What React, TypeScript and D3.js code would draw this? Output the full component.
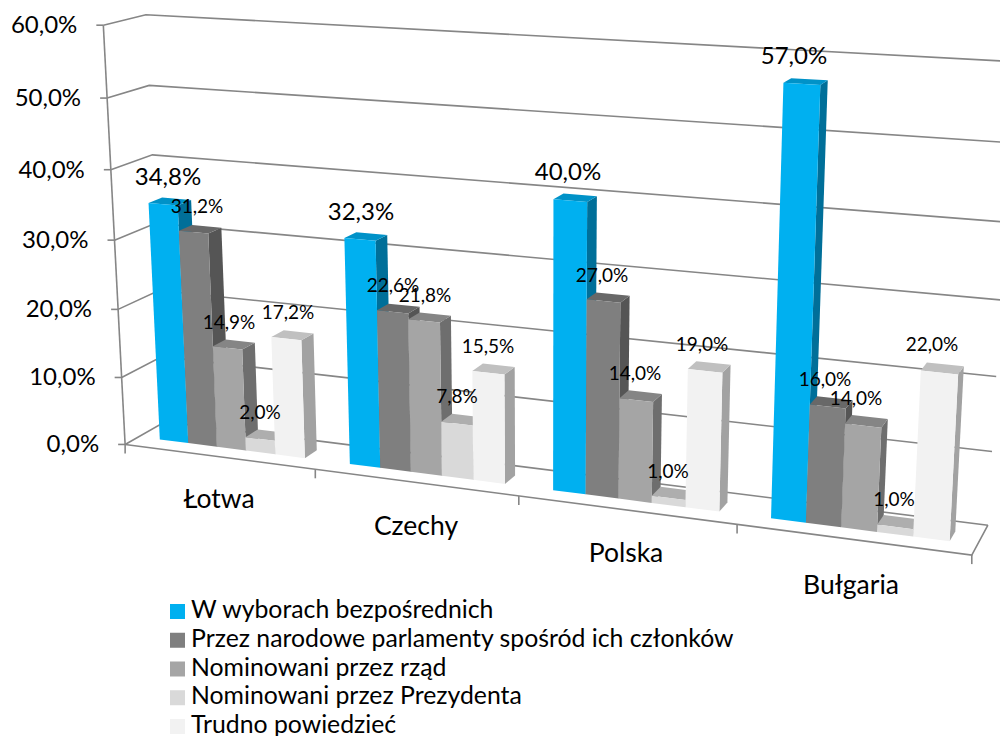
import React from "react";
import * as d3 from "d3";

const categories = ["Łotwa", "Czechy", "Polska", "Bułgaria"];
const seriesNames = [
  "W wyborach bezpośrednich",
  "Przez narodowe parlamenty spośród ich członków",
  "Nominowani przez rząd",
  "Nominowani przez Prezydenta",
  "Trudno powiedzieć",
];
const directElection = [34.8, 32.3, 40.0, 57.0];
const parliaments = [31.2, 22.6, 27.0, 16.0];
const government = [14.9, 21.8, 14.0, 14.0];
const president = [2.0, 7.8, 1.0, 1.0];
const hardToSay = [17.2, 15.5, 19.0, 22.0];
const valueTicks = [0, 10, 20, 30, 40, 50, 60];

const seriesValues = [directElection, parliaments, government, president, hardToSay];
const faceColors = [
  { front: "#00B0F0", side: "#006F99", top: "#0092C8" },
  { front: "#7F7F7F", side: "#555555", top: "#686868" },
  { front: "#A5A5A5", side: "#6E6E6E", top: "#858585" },
  { front: "#D9D9D9", side: "#919191", top: "#AEAEAE" },
  { front: "#F2F2F2", side: "#A2A2A2", top: "#C0C0C0" },
];
// Label anchors (centre x, baseline y), per series then category.
const labelAnchors = [
  [[168, 185], [361, 220], [568, 180], [794, 64]],
  [[197, 213], [393, 292], [602, 282], [825, 386]],
  [[229, 329], [425, 302], [635, 380], [856, 405]],
  [[260, 419], [457, 403], [668, 478], [894, 506]],
  [[288, 319], [488, 353], [702, 351], [932, 351]],
];
const categoryAnchors = [[219, 508], [416, 535], [626, 562], [851, 594]];

// Camera calibration: (u, depth, v) => screen
const calibration = [
  [0, 0, 0, 127, 443],
  [1, 0, 0, 972, 557],
  [0, 1, 0, 163, 424],
  [1, 1, 0, 988, 523],
  [0, 0, 1, 102, 25],
  [0, 1, 1, 148, 14],
  [1, 1, 1, 1014, 62],
  [0.0288, 1 / 3, 0, 160, 440],
  [0.2788, 1 / 3, 0, 350, 464],
  [0.5288, 1 / 3, 0, 553, 491],
  [0.7788, 1 / 3, 0, 771, 518],
  [0.2212, 1 / 3, 0, 305, 457],
  [0.4712, 1 / 3, 0, 505, 483],
  [0.7212, 1 / 3, 0, 719, 512],
  [0.9712, 1 / 3, 0, 950, 541],
  [0.0288, 1 / 3, 0.58, 148, 203],
  [0.2788, 1 / 3, 0.5383, 344, 238],
  [0.5288, 1 / 3, 0.6667, 553, 200],
  [0.7788, 1 / 3, 0.95, 783, 83],
];

function solveCamera(pts: number[][]) {
  const rows: number[][] = [];
  const rhs: number[] = [];
  for (const [u, d, v, x, y] of pts) {
    rows.push([u, d, v, 1, 0, 0, 0, 0, -x * u, -x * d, -x * v]);
    rhs.push(x);
    rows.push([0, 0, 0, 0, u, d, v, 1, -y * u, -y * d, -y * v]);
    rhs.push(y);
  }
  const n = 11;
  const A = d3.range(n).map((i) =>
    d3.range(n + 1).map((j) =>
      d3.sum(rows, (r, k) => r[i] * (j < n ? r[j] : rhs[k]))
    )
  );
  for (let c = 0; c < n; c++) {
    let p = c;
    for (let r = c + 1; r < n; r++) if (Math.abs(A[r][c]) > Math.abs(A[p][c])) p = r;
    [A[c], A[p]] = [A[p], A[c]];
    for (let r = 0; r < n; r++) {
      if (r === c) continue;
      const f = A[r][c] / A[c][c];
      for (let k = c; k <= n; k++) A[r][k] -= f * A[c][k];
    }
  }
  return A.map((r, i) => r[n] / r[i]);
}
const cam = solveCamera(calibration);
const project = (u: number, d: number, v: number): [number, number] => {
  const w = cam[8] * u + cam[9] * d + cam[10] * v + 1;
  return [
    (cam[0] * u + cam[1] * d + cam[2] * v + cam[3]) / w,
    (cam[4] * u + cam[5] * d + cam[6] * v + cam[7]) / w,
  ];
};

const valueScale = d3.scaleLinear().domain([0, 60]).range([0, 1]);
const catScale = d3.scaleBand<number>().domain(d3.range(categories.length)).range([0, 1]);
const barScale = d3
  .scaleBand<number>()
  .domain(d3.range(seriesNames.length))
  .range([0, catScale.bandwidth()])
  .paddingInner(0)
  .paddingOuter(0.75);
const depthFront = 1 / 3;
const depthBack = 2 / 3;

const lineGen = d3.line();
const polyPath = (pts: [number, number][]) => lineGen(pts) + "Z";
const FONT = "Lato, 'Open Sans', sans-serif";
const GRID = "#868686";

export default function App() {
  return (
    <svg width={1000} height={736} style={{ position: "absolute", left: 0, top: 0, background: "#fff" }} fontFamily={FONT}>
      {/* gridlines on side and back walls */}
      {valueTicks.map((t) => {
        const v = valueScale(t);
        return (
          <path
            key={t}
            d={lineGen([project(0, 0, v), project(0, 1, v), project(1, 1, v)])!}
            fill="none"
            stroke={GRID}
            strokeWidth={1.6}
          />
        );
      })}
      {/* floor */}
      <path
        d={lineGen([project(0, 0, 0), project(1, 0, 0), project(1, 1, 0)])!}
        fill="none"
        stroke={GRID}
        strokeWidth={1.6}
      />
      {/* value axis */}
      <path d={lineGen([project(0, 0, 0), project(0, 0, 1)])!} fill="none" stroke={GRID} strokeWidth={1.6} />
      {valueTicks.map((t) => {
        const [x, y] = project(0, 0, valueScale(t));
        return (
          <g key={t}>
            <line x1={x - 7} x2={x} y1={y} y2={y} stroke={GRID} strokeWidth={1.6} />
            <text x={x - 26} y={y + 8} textAnchor="end" fontSize={24} fill="#000">
              {t.toFixed(1).replace(".", ",") + "%"}
            </text>
          </g>
        );
      })}
      {d3.range(categories.length + 1).map((i) => {
        const [x, y] = project(i / categories.length, 0, 0);
        return <line key={i} x1={x} x2={x} y1={y} y2={y + 9} stroke={GRID} strokeWidth={1.6} />;
      })}
      {/* bars */}
      {categories.map((_, ci) =>
        seriesValues.map((vals, si) => {
          const u0 = catScale(ci)! + barScale(si)!;
          const u1 = u0 + barScale.bandwidth();
          const v = valueScale(vals[ci]);
          const c = faceColors[si];
          return (
            <g key={`${ci}-${si}`}>
              <path
                d={polyPath([project(u1, depthFront, 0), project(u1, depthBack, 0), project(u1, depthBack, v), project(u1, depthFront, v)])}
                fill={c.side}
              />
              <path
                d={polyPath([project(u0, depthFront, v), project(u1, depthFront, v), project(u1, depthBack, v), project(u0, depthBack, v)])}
                fill={c.top}
              />
              <path
                d={polyPath([project(u0, depthFront, 0), project(u1, depthFront, 0), project(u1, depthFront, v), project(u0, depthFront, v)])}
                fill={c.front}
              />
            </g>
          );
        })
      )}
      {/* data labels */}
      {seriesValues.map((vals, si) =>
        vals.map((val, ci) => (
          <text
            key={`${si}-${ci}`}
            x={labelAnchors[si][ci][0]}
            y={labelAnchors[si][ci][1]}
            textAnchor="middle"
            fontSize={si === 0 ? 24 : 19}
            fill="#000"
          >
            {val.toFixed(1).replace(".", ",") + "%"}
          </text>
        ))
      )}
      {/* category labels */}
      {categories.map((c, i) => (
        <text key={c} x={categoryAnchors[i][0]} y={categoryAnchors[i][1]} textAnchor="middle" fontSize={26.5} fill="#000">
          {c}
        </text>
      ))}
      {/* legend */}
      {seriesNames.map((s, i) => {
        const y = d3.scaleLinear().domain([0, 4]).range([604, 719])(i);
        return (
          <g key={s}>
            <rect x={170} y={y} width={15} height={15} fill={faceColors[i].front} />
            <text x={191} y={y + 14} fontSize={24.8} fill="#000">
              {s}
            </text>
          </g>
        );
      })}
    </svg>
  );
}
